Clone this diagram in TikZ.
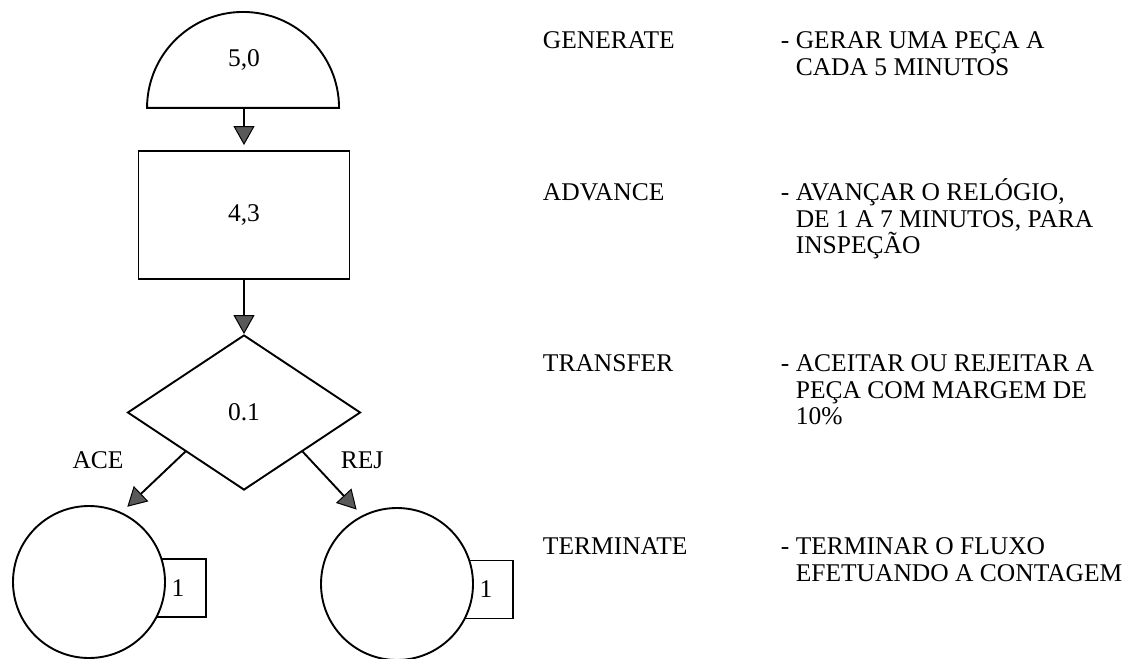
\documentclass[tikz,border=0pt]{standalone}
\usepackage{fontspec}
\setmainfont{Liberation Serif}
\usetikzlibrary{arrows.meta,shapes.geometric,calc}

\begin{document}
\begin{tikzpicture}[x=1pt,y=-1pt,
  line width=1.9pt,
  every node/.style={font=\fontsize{25.5}{27}\selectfont, inner sep=0pt},
  flow/.style={line width=1.9pt,
    -{Triangle[length=19pt,width=21pt,fill=black!65,line width=1pt]}},
  blockbox/.style={draw, rectangle},
  endcircle/.style={draw, circle, fill=white, minimum size=152pt},
  countbox/.style={draw, rectangle, minimum width=56pt, minimum height=58pt},
  lbl/.style={anchor=base west},
  desc/.style={anchor=base west}
]
\useasboundingbox (0,0) rectangle (1139,658);

% GENERATE block (half disc)
\node (gen) [minimum width=192pt, minimum height=95pt] at (244,59.5) {5,0};
\draw (gen.south west) arc[start angle=180, end angle=0, radius=96pt] -- cycle;

% ADVANCE block
\node (adv) [blockbox, minimum width=211pt, minimum height=128pt] at (244,215) {4,3};

% TRANSFER block
\node (tra) [draw, diamond, minimum width=233pt, minimum height=155pt] at (244,412.5) {0.1};

% TERMINATE blocks with their counters
\node (cntA) [countbox] at (178,588) {1};
\node (endA) [endcircle] at (89,582) {};
\node (cntB) [countbox, minimum width=54pt] at (486,589.5) {1};
\node (endB) [endcircle] at (397,584) {};

% connectors
\draw[flow] (gen.south) -- ($(adv.north)+(0,-5)$);
\draw[flow] (adv.south) -- (tra.north);
\coordinate (accOut) at ($(tra.west)!0.5!(tra.south)$);
\coordinate (rejOut) at ($(tra.east)!0.5!(tra.south)$);
\draw[flow, shorten >=8pt] (accOut) -- (endA.65);
\draw[flow, shorten >=8pt] (rejOut) -- (endB.117);

\node (ace) at (98,460) {ACE};
\node (rej) at (362,460) {REJ};

% legend
\node (l1) [lbl] at (542,48.5) {GENERATE};
\node (d1a) [desc] at (780,48.5) {- GERAR UMA PEÇA A};
\node (d1b) [desc] at (780,75.5) {\phantom{-\ }CADA 5 MINUTOS};

\node (l2) [lbl] at (542,200.5) {ADVANCE};
\node (d2a) [desc] at (780,200.5) {- AVANÇAR O RELÓGIO,};
\node (d2b) [desc] at (780,227) {\phantom{-\ }DE 1 A 7 MINUTOS, PARA};
\node (d2c) [desc] at (780,253.5) {\phantom{-\ }INSPEÇÃO};

\node (l3) [lbl] at (542,371.5) {TRANSFER};
\node (d3a) [desc] at (780,371.5) {- ACEITAR OU REJEITAR A};
\node (d3b) [desc] at (780,398) {\phantom{-\ }PEÇA COM MARGEM DE};
\node (d3c) [desc] at (780,424.5) {\phantom{-\ }10\%};

\node (l4) [lbl] at (542,554.5) {TERMINATE};
\node (d4a) [desc] at (780,554.5) {- TERMINAR O FLUXO};
\node (d4b) [desc] at (780,581.5) {\phantom{-\ }EFETUANDO A CONTAGEM};
\end{tikzpicture}
\end{document}
